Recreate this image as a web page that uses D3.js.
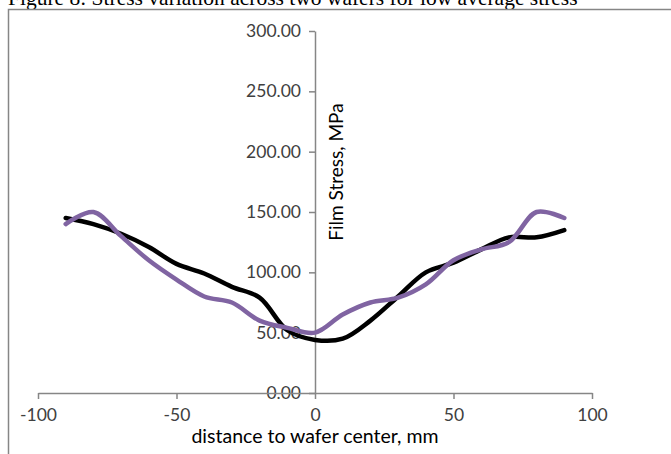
<!DOCTYPE html>
<html>
<head>
<meta charset="utf-8">
<script src="https://cdn.jsdelivr.net/npm/d3@7"></script>
<style>
  html, body { margin: 0; padding: 0; background: #fff; }
  svg { display: block; }
</style>
</head>
<body>
<svg id="chart" width="671" height="454"></svg>
<script>
// ---- data ----
const distances = [-90, -80, -70, -60, -50, -40, -30, -20, -10, 0, 10, 20, 30, 40, 50, 60, 70, 80, 90];
const wafer1 = [145, 140, 132, 121, 107, 99, 88, 79, 52, 44, 45, 60, 80, 100, 108, 119, 129, 129, 135];
const wafer2 = [140, 150, 130, 110, 94, 80, 75, 60, 54, 50, 65, 75, 79, 90, 110, 119, 125, 150, 145];
const xTicks = [-100, -50, 0, 50, 100];
const yTicks = [0, 50, 100, 150, 200, 250, 300];
const titleText = "Figure 8: Stress variation across two wafers for low average stress";
const xTitle = "distance to wafer center, mm";
const yTitle = "Film Stress, MPa";

const svg = d3.select("#chart");
const axisColor = "#868686";
const font = "Lato, 'Open Sans', sans-serif";

// title (clipped at top, as in the reference)
svg.append("text")
  .attr("x", 8).attr("y", 5)
  .attr("font-family", "'Liberation Serif', 'Times New Roman', serif")
  .attr("font-size", 21.5)
  .attr("fill", "#000")
  .text(titleText);

// frame
svg.append("rect")
  .attr("x", 8.5).attr("y", 9.5)
  .attr("width", 700).attr("height", 500)
  .attr("fill", "none")
  .attr("stroke", axisColor)
  .attr("stroke-width", 1.5);

const x = d3.scaleLinear().domain([-100, 100]).range([38, 592]);
const y = d3.scaleLinear().domain([0, 300]).range([393, 31]);

// y axis at x = 0
const yAxis = svg.append("g")
  .attr("transform", `translate(${x(0)},0)`)
  .call(d3.axisLeft(y).tickValues(yTicks).tickFormat(d3.format(".2f")).tickSize(6).tickSizeOuter(0).tickPadding(8));
yAxis.select(".domain").attr("stroke", axisColor).attr("stroke-width", 1.5);
yAxis.selectAll(".tick line").attr("stroke", axisColor).attr("stroke-width", 1.5);
yAxis.selectAll(".tick text").attr("font-family", font).attr("font-size", 17.5).attr("fill", "#404040");

// x axis at y = 0
const xAxis = svg.append("g")
  .attr("transform", `translate(0,${y(0)})`)
  .call(d3.axisBottom(x).tickValues(xTicks).tickFormat(d => String(d)).tickSize(6).tickSizeOuter(0).tickPadding(10));
xAxis.select(".domain").attr("stroke", axisColor).attr("stroke-width", 1.5);
xAxis.selectAll(".tick line").attr("stroke", axisColor).attr("stroke-width", 1.5);
xAxis.selectAll(".tick text").attr("font-family", font).attr("font-size", 17.5).attr("fill", "#404040");

// axis titles
svg.append("text")
  .attr("x", x(0)).attr("y", 443)
  .attr("text-anchor", "middle")
  .attr("font-family", font).attr("font-size", 19.5).attr("fill", "#000")
  .text(xTitle);

svg.append("text")
  .attr("transform", `translate(343,172) rotate(-90)`)
  .attr("text-anchor", "middle")
  .attr("font-family", font).attr("font-size", 19).attr("fill", "#000")
  .text(yTitle);

// lines
const line = d3.line().curve(d3.curveCatmullRom.alpha(0.5));
const series = [
  { vals: wafer1, color: "#000000" },
  { vals: wafer2, color: "#8064a2" }
];
series.forEach(s => {
  svg.append("path")
    .attr("d", line(distances.map((d, i) => [x(d), y(s.vals[i])])))
    .attr("fill", "none")
    .attr("stroke", s.color)
    .attr("stroke-width", 4.5)
    .attr("stroke-linejoin", "round")
    .attr("stroke-linecap", "round");
});
</script>
</body>
</html>
